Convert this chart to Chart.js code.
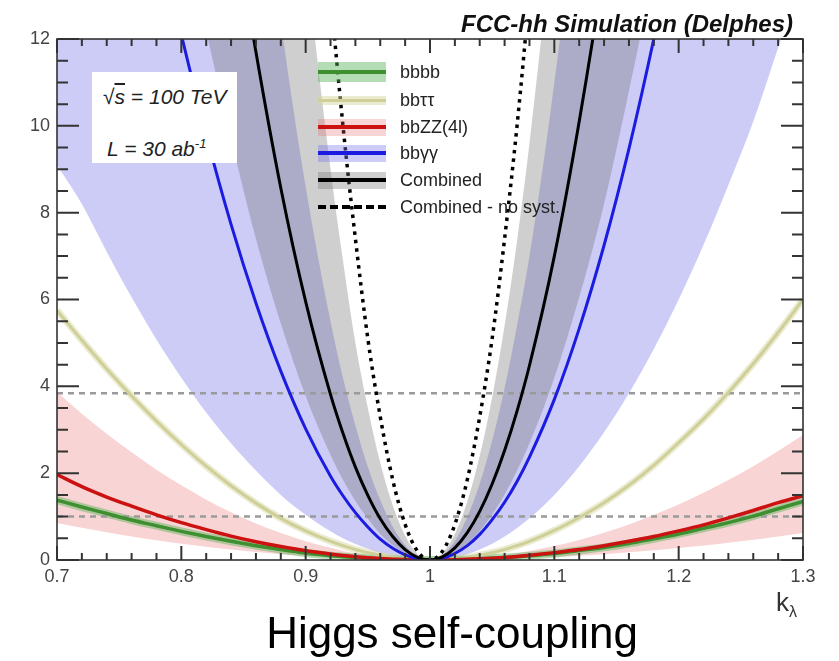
<!DOCTYPE html>
<html>
<head>
<meta charset="utf-8">
<title>Higgs self-coupling</title>
<script src="https://cdn.jsdelivr.net/npm/chart.js@4.4.1/dist/chart.umd.min.js"></script>
<style>
  body { margin: 0; background: #fff; }
  #wrap { position: relative; width: 839px; height: 661px; font-family: "Liberation Sans", Arial, Helvetica, sans-serif; color: #222; }
  #wrap canvas { position: absolute; left: 0; top: 0; }
  .txt { position: absolute; white-space: nowrap; }
  #title { right: 46px; top: 12px; font-size: 24px; line-height: 24px; font-weight: bold; font-style: italic; color: #111; }
  #caption { left: 252px; width: 400px; top: 611px; font-size: 44px; line-height: 44px; text-align: center; color: #000; }
  #xlabel { left: 776px; top: 589px; font-size: 26px; line-height: 26px; color: #333; }
  #xlabel sub { font-size: 16px; vertical-align: -6px; }
  #infobox { position: absolute; left: 92px; top: 72px; width: 145px; height: 91px; background: #fff; }
  .info { font-size: 21px; line-height: 21px; font-style: italic; color: #222; }
  .info sup { font-size: 13px; vertical-align: 8px; }
  .leg-sym { position: absolute; width: 68px; }
  .leg-txt { font-size: 18px; line-height: 18px; color: #222; }
</style>
</head>
<body>
<div id="wrap">
  <canvas id="chart" width="839" height="661"></canvas>
  <div id="infobox">
    <div class="txt info" style="left:11px; top:14px;">&radic;<span style="text-decoration:overline">s</span> = 100 TeV</div>
    <div class="txt info" style="left:15px; top:61px;">L = 30 ab<sup>-1</sup></div>
  </div>
  <div id="legend"></div>
  <div id="title" class="txt">FCC-hh Simulation (Delphes)</div>
  <div id="xlabel" class="txt">k<sub>&lambda;</sub></div>
  <div id="caption" class="txt">Higgs self-coupling</div>
</div>
<script>
// kappa_lambda sample points (finer near the minimum)
const kappa = [0.70, 0.72, 0.74, 0.76, 0.78, 0.80, 0.82, 0.84, 0.86, 0.88, 0.90, 0.92,
    0.93, 0.94, 0.95, 0.96, 0.97, 0.98, 0.99, 1.00, 1.01, 1.02, 1.03, 1.04, 1.05, 1.06, 1.07,
    1.08, 1.10, 1.12, 1.14, 1.16, 1.18, 1.20, 1.22, 1.24, 1.26, 1.28, 1.30];

// -2 ln L curves
const bbbb = [1.38, 1.22, 1.07, 0.92, 0.79, 0.66, 0.54, 0.43, 0.33, 0.24, 0.16, 0.10,
    0.077, 0.056, 0.039, 0.025, 0.014, 0.006, 0.002, 0, 0.002, 0.006, 0.014, 0.024, 0.038, 0.054, 0.074,
    0.096, 0.15, 0.22, 0.29, 0.38, 0.49, 0.60, 0.73, 0.86, 1.01, 1.18, 1.35];
const bbtautau = [5.75, 5.06, 4.40, 3.78, 3.20, 2.66, 2.16, 1.71, 1.31, 0.96, 0.67, 0.43,
    0.33, 0.24, 0.17, 0.11, 0.06, 0.027, 0.007, 0, 0.007, 0.027, 0.06, 0.11, 0.17, 0.24, 0.33,
    0.43, 0.68, 0.98, 1.32, 1.72, 2.18, 2.70, 3.25, 3.86, 4.52, 5.24, 6.00];
const bbzz = [1.97, 1.69, 1.45, 1.24, 1.04, 0.86, 0.70, 0.55, 0.42, 0.31, 0.215, 0.14,
    0.105, 0.077, 0.054, 0.034, 0.019, 0.009, 0.002, 0, 0.002, 0.007, 0.015, 0.027, 0.042, 0.06, 0.082,
    0.11, 0.17, 0.24, 0.33, 0.43, 0.54, 0.67, 0.81, 0.97, 1.14, 1.32, 1.48];
const bbzzHi = [3.87, 3.37, 2.91, 2.48, 2.08, 1.72, 1.39, 1.10, 0.84, 0.62, 0.43, 0.28,
    0.21, 0.155, 0.11, 0.07, 0.04, 0.017, 0.004, 0, 0.003, 0.013, 0.029, 0.051, 0.08, 0.115, 0.157,
    0.205, 0.32, 0.46, 0.63, 0.82, 1.04, 1.28, 1.55, 1.84, 2.16, 2.51, 2.88];
const bbzzLo = [0.85, 0.74, 0.64, 0.54, 0.455, 0.376, 0.305, 0.24, 0.184, 0.135, 0.094, 0.06,
    0.046, 0.034, 0.024, 0.015, 0.008, 0.004, 0.001, 0, 0.001, 0.003, 0.006, 0.011, 0.017, 0.025, 0.034,
    0.044, 0.069, 0.10, 0.135, 0.177, 0.224, 0.276, 0.334, 0.40, 0.466, 0.54, 0.62];
const bbgg = [27.2, 23.7, 20.4, 17.4, 14.6, 12.1, 9.8, 7.73, 5.92, 4.35, 3.02, 1.93,
    1.48, 1.09, 0.76, 0.48, 0.27, 0.12, 0.03, 0, 0.037, 0.15, 0.33, 0.59, 0.93, 1.33, 1.81,
    2.37, 3.70, 5.33, 7.25, 9.47, 12.0, 14.8, 17.9, 21.3, 25.0, 29.0, 33.3];
const bbggLo = [9.1, 8.2, 7.1, 6.05, 5.08, 4.2, 3.4, 2.69, 2.06, 1.50, 1.04, 0.66,
    0.50, 0.37, 0.26, 0.16, 0.09, 0.04, 0.01, 0, 0.015, 0.06, 0.135, 0.24, 0.375, 0.54, 0.735,
    0.96, 1.50, 2.16, 2.94, 3.84, 4.86, 6.0, 7.26, 8.64, 10.1, 11.8, 13.5];
const bbggHi = [77, 67, 58, 50, 42, 34.4, 27.9, 22.0, 16.9, 12.4, 8.6, 5.5,
    4.2, 3.1, 2.15, 1.38, 0.77, 0.34, 0.086, 0, 0.11, 0.44, 0.99, 1.76, 2.75, 3.96, 5.4,
    7.0, 11.0, 15.8, 21.6, 28, 36, 44, 53, 63, 74, 86, 99];
const combined = [53.6, 46.6, 40.2, 34.3, 28.8, 23.8, 19.3, 15.2, 11.7, 8.57, 5.95, 3.81,
    2.92, 2.14, 1.49, 0.95, 0.54, 0.24, 0.06, 0, 0.07, 0.28, 0.63, 1.12, 1.75, 2.52, 3.43,
    4.48, 7.0, 10.1, 13.7, 17.9, 22.7, 28.0, 33.9, 40.3, 47.3, 54.9, 63];
const combinedLo = [34, 29.6, 25.6, 21.8, 18.3, 15.1, 12.2, 9.7, 7.4, 5.45, 3.78, 2.42,
    1.85, 1.36, 0.95, 0.60, 0.34, 0.15, 0.038, 0, 0.042, 0.17, 0.38, 0.67, 1.05, 1.51, 2.06,
    2.69, 4.2, 6.05, 8.2, 10.8, 13.6, 16.8, 20.3, 24.2, 28.4, 32.9, 37.8];
const combinedHi = [126, 110, 95, 81, 68, 56, 45, 36, 27.4, 20.2, 14.0, 9.0,
    6.9, 5.0, 3.5, 2.24, 1.26, 0.56, 0.14, 0, 0.15, 0.6, 1.35, 2.4, 3.75, 5.4, 7.35,
    9.6, 15, 21.6, 29.4, 38.4, 48.6, 60, 72.6, 86.4, 101, 118, 135];
const noSyst = [184, 161, 139, 118, 99, 82, 66, 52, 40, 29.5, 20.5, 13.1,
    10.0, 7.4, 5.1, 3.3, 1.85, 0.82, 0.2, 0, 0.2, 0.82, 1.85, 3.3, 5.1, 7.4, 10.0,
    13.1, 20.5, 29.5, 40, 52, 66, 82, 99, 118, 139, 161, 184];

// 1 and 2 sigma levels
const refLevels = [1, 3.84];

const seriesNames = ["bbbb", "bb\u03c4\u03c4", "bbZZ(4l)", "bb\u03b3\u03b3", "Combined", "Combined - no syst."];
const xTickValues = [0.7, 0.8, 0.9, 1.0, 1.1, 1.2, 1.3];
const xTickLabels = ["0.7", "0.8", "0.9", "1", "1.1", "1.2", "1.3"];
const yTickValues = [0, 2, 4, 6, 8, 10, 12];
const yTickLabels = ["0", "2", "4", "6", "8", "10", "12"];

const GREEN = "#3d8f2f", GREEN_BAND = "rgba(90,180,90,0.45)";
const KHAKI = "#cfcf98", KHAKI_BAND = "rgba(215,215,165,0.5)";
const RED = "#cc1111", RED_BAND = "rgba(230,100,100,0.28)";
const BLUE = "#1c1ce0", BLUE_BAND = "rgba(120,120,235,0.38)";
const GRAY_BAND = "rgba(110,110,110,0.33)";

function pts(arr) {
    return kappa.map((k, i) => ({ x: k, y: arr[i] }));
}

function band(data, order) {
    return { data: pts(data), borderWidth: 0, borderColor: "transparent", fill: false, order: order };
}

const datasets = [
    band(bbggLo, 90),
    { ...band(bbggHi, 90), fill: "-1", backgroundColor: BLUE_BAND },
    band(combinedLo, 80),
    { ...band(combinedHi, 80), fill: "-1", backgroundColor: GRAY_BAND },
    band(bbzzLo, 70),
    { ...band(bbzzHi, 70), fill: "-1", backgroundColor: RED_BAND },
    { data: pts(bbtautau), borderColor: KHAKI_BAND, borderWidth: 7, order: 60 },
    { data: pts(bbbb), borderColor: GREEN_BAND, borderWidth: 8, order: 55 },
    ...refLevels.map(v => ({
        data: [{ x: 0.7, y: v }, { x: 1.3, y: v }],
        borderColor: "#9a9a9a", borderWidth: 2.5, borderDash: [6, 5], order: 50
    })),
    { label: seriesNames[1], data: pts(bbtautau), borderColor: KHAKI, borderWidth: 3, order: 40 },
    { label: seriesNames[0], data: pts(bbbb), borderColor: GREEN, borderWidth: 3.5, order: 35 },
    { label: seriesNames[2], data: pts(bbzz), borderColor: RED, borderWidth: 3.5, order: 30 },
    { label: seriesNames[3], data: pts(bbgg), borderColor: BLUE, borderWidth: 3, order: 20 },
    { label: seriesNames[4], data: pts(combined), borderColor: "#000", borderWidth: 3, order: 10 },
    { label: seriesNames[5], data: pts(noSyst), borderColor: "#000", borderWidth: 3.5, borderDash: [3.5, 5], order: 5 }
];

// ROOT-style frame with inward ticks on all four sides
const frameTicks = {
    id: "frameTicks",
    afterDatasetsDraw(chart) {
        const { ctx, chartArea: a, scales: { x, y } } = chart;
        ctx.save();
        ctx.strokeStyle = "#333";
        ctx.lineWidth = 2;
        ctx.beginPath();
        for (let i = 0; i <= 30; i++) {
            const px = x.getPixelForValue(0.7 + i * 0.02);
            const len = i % 5 === 0 ? 14 : 7;
            ctx.moveTo(px, a.bottom); ctx.lineTo(px, a.bottom - len);
            ctx.moveTo(px, a.top); ctx.lineTo(px, a.top + len);
        }
        for (let i = 0; i <= 24; i++) {
            const py = y.getPixelForValue(i * 0.5);
            const len = i % 4 === 0 ? 22 : 11;
            ctx.moveTo(a.left, py); ctx.lineTo(a.left + len, py);
            ctx.moveTo(a.right, py); ctx.lineTo(a.right - len, py);
        }
        ctx.stroke();
        ctx.lineWidth = 1.6;
        ctx.strokeRect(a.left, a.top, a.right - a.left, a.bottom - a.top);
        ctx.restore();
    }
};

const tickFont = { family: "'Liberation Sans', Arial, Helvetica, sans-serif", size: 18 };

const chart = new Chart(document.getElementById("chart").getContext("2d"), {
    type: "line",
    data: { datasets: datasets },
    options: {
        responsive: false,
        animation: false,
        devicePixelRatio: 1,
        layout: { padding: { top: 39, right: 36, bottom: 61, left: 0 } },
        elements: {
            point: { radius: 0 },
            line: { cubicInterpolationMode: "monotone", borderCapStyle: "butt" }
        },
        datasets: { line: { clip: 0 } },
        plugins: { legend: { display: false }, tooltip: { enabled: false } },
        scales: {
            x: {
                type: "linear", min: 0.7, max: 1.3,
                grid: { display: false, drawTicks: false },
                border: { display: false },
                afterBuildTicks: s => { s.ticks = xTickValues.map(v => ({ value: v })); },
                afterFit: s => { s.height = 40; },
                ticks: { callback: (v, i) => xTickLabels[i], color: "#444", font: tickFont, padding: 6, maxRotation: 0 }
            },
            y: {
                type: "linear", min: 0, max: 12,
                grid: { display: false, drawTicks: false },
                border: { display: false },
                afterBuildTicks: s => { s.ticks = yTickValues.map(v => ({ value: v })); },
                afterFit: s => { s.width = 57; },
                ticks: { callback: (v, i) => yTickLabels[i], color: "#444", font: tickFont, padding: 7 }
            }
        }
    },
    plugins: [frameTicks]
});

// legend, drawn in the upper middle of the frame
const legendRows = [
    { y: 72, band: GREEN_BAND, bandH: 20, line: GREEN, lineW: 4 },
    { y: 100, band: KHAKI_BAND, bandH: 9, line: KHAKI, lineW: 3 },
    { y: 127, band: RED_BAND, bandH: 17, line: RED, lineW: 4 },
    { y: 153, band: BLUE_BAND, bandH: 17, line: BLUE, lineW: 4 },
    { y: 180, band: GRAY_BAND, bandH: 17, line: "#000", lineW: 4 },
    { y: 207, band: null, bandH: 0, line: "#000", lineW: 4, dotted: true }
];
const legend = document.getElementById("legend");
legendRows.forEach((r, i) => {
    if (r.band) {
        const b = document.createElement("div");
        b.className = "leg-sym";
        b.style.cssText = `left:318px; top:${r.y - r.bandH / 2}px; height:${r.bandH}px; background:${r.band};`;
        legend.appendChild(b);
    }
    const l = document.createElement("div");
    l.className = "leg-sym";
    if (r.dotted) {
        l.style.cssText = `left:318px; top:${r.y - 2}px; height:0; border-top:4px dashed #000;`;
    } else {
        l.style.cssText = `left:318px; top:${r.y - r.lineW / 2}px; height:${r.lineW}px; background:${r.line};`;
    }
    legend.appendChild(l);
    const t = document.createElement("div");
    t.className = "txt leg-txt";
    t.style.left = "400px";
    t.style.top = (r.y - 9) + "px";
    t.textContent = seriesNames[i];
    legend.appendChild(t);
});
</script>
</body>
</html>
